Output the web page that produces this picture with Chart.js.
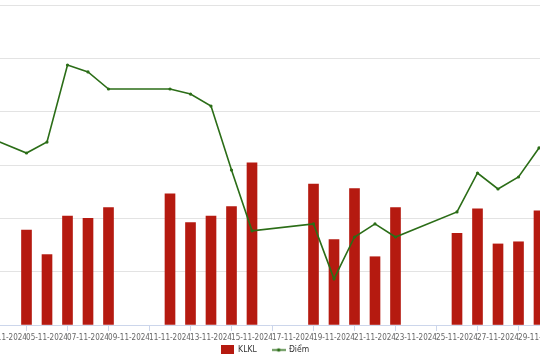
<!DOCTYPE html>
<html>
<head>
<meta charset="utf-8">
<script src="https://cdn.jsdelivr.net/npm/chart.js@4.4.1/dist/chart.umd.min.js"></script>
<style>
html,body{margin:0;padding:0;background:#fff;overflow:hidden;}
#wrap{position:relative;width:540px;height:360px;}
</style>
</head>
<body>
<div id="wrap"><canvas id="c"></canvas></div>
<script>
const dates = ["01-11-2024","04-11-2024","05-11-2024","06-11-2024","07-11-2024","08-11-2024",
  "11-11-2024","12-11-2024","13-11-2024","14-11-2024","15-11-2024",
  "18-11-2024","19-11-2024","20-11-2024","21-11-2024","22-11-2024",
  "25-11-2024","26-11-2024","27-11-2024","28-11-2024","29-11-2024"];
const klkl = [null, 89, 66, 102, 100, 110, 123, 96, 102, 111, 152, 132, 80, 128, 64, 110, 86, 109, 76, 78, 107];
const diem = [227.39, 226.45, 226.86, 229.75, 229.49, 228.85, 228.85, 228.66, 228.21, 225.81, 223.53,
  223.79, 221.73, 223.30, 223.79, 223.30, 224.24, 225.70, 225.10, 225.55, 226.64];
const tickLabels = ["03-11-2024","05-11-2024","07-11-2024","09-11-2024","11-11-2024","13-11-2024",
  "15-11-2024","17-11-2024","19-11-2024","21-11-2024","23-11-2024","25-11-2024","27-11-2024","29-11-2024"];
const seriesNames = ["KLKL", "Điểm"];

const dayOf = s => parseInt(s.slice(0, 2), 10);
const tickDays = tickLabels.map(dayOf);

const RED = '#b51a10';
const GREEN = '#2b6d17';
const FONT = '"Liberation Sans Narrow", "DejaVu Sans Condensed", "Roboto", sans-serif';

function mkBox() {
  const c = document.createElement('canvas'); c.width = 13; c.height = 9;
  const g = c.getContext('2d'); g.fillStyle = RED; g.fillRect(0, 0, 13, 9); return c;
}
function mkLine() {
  const c = document.createElement('canvas'); c.width = 14; c.height = 9;
  const g = c.getContext('2d'); g.strokeStyle = GREEN; g.lineWidth = 1.5;
  g.beginPath(); g.moveTo(0, 4.5); g.lineTo(14, 4.5); g.stroke();
  g.fillStyle = GREEN; g.beginPath(); g.arc(7, 4.5, 1.8, 0, Math.PI * 2); g.fill(); return c;
}
const legendIcons = [mkBox(), mkLine()];

const pxPerDay = 20.5;
const xMin = 3 - 6 / pxPerDay;
const xMax = xMin + 540 / pxPerDay;

const legendShift = {
  id: 'legendShift',
  afterLayout(chart) {
    const lg = chart.legend; const h = lg.bottom - lg.top;
    lg.top = 329.7; lg.bottom = lg.top + h;
    lg.left -= 4.5; lg.right -= 4.5;
  }
};

new Chart(document.getElementById('c'), {
  plugins: [legendShift],
  data: {
    datasets: [
      {
        type: 'line', label: seriesNames[1], yAxisID: 'y1', order: 0,
        data: dates.map((d, i) => ({x: dayOf(d), y: diem[i]})),
        borderColor: GREEN, backgroundColor: GREEN, borderWidth: 1.6,
        pointRadius: 1.6, pointBackgroundColor: GREEN, pointBorderWidth: 0, tension: 0
      },
      {
        type: 'bar', label: seriesNames[0], yAxisID: 'y', order: 1,
        data: dates.map((d, i) => ({x: dayOf(d), y: klkl[i]})),
        backgroundColor: RED, borderWidth: 0, barThickness: 10
      }
    ]
  },
  options: {
    responsive: true, maintainAspectRatio: false, animation: false,
    layout: {autoPadding: false, padding: {top: 5, bottom: -17.5, left: 0, right: 0}},
    plugins: {
      tooltip: {enabled: false},
      legend: {
        position: 'bottom',
        labels: {
          usePointStyle: true, pointStyleWidth: 12, padding: 16, color: '#333',
          font: {family: FONT, size: 8.5},
          generateLabels: chart => seriesNames.map((n, i) => ({
            text: n, pointStyle: legendIcons[i], fillStyle: 'transparent', strokeStyle: 'transparent',
            lineWidth: 0, hidden: false, datasetIndex: i === 0 ? 1 : 0, fontColor: '#333'
          }))
        }
      }
    },
    scales: {
      x: {
        type: 'linear', min: xMin, max: xMax, offset: false,
        afterBuildTicks: s => { s.ticks = tickDays.map(v => ({value: v})); },
        afterFit: s => { s.paddingLeft = 0; s.paddingRight = 0; s.height = 18; },
        grid: {drawOnChartArea: false, drawTicks: true, tickLength: 6, color: '#ccd6eb'},
        border: {display: true, color: '#ccd6eb', width: 1},
        ticks: {
          autoSkip: false, maxRotation: 0, minRotation: 0, padding: 2, color: '#666',
          font: {family: FONT, size: 8},
          callback: v => { const i = tickDays.indexOf(v); return i >= 0 ? tickLabels[i] : ''; }
        }
      },
      y: {
        position: 'left', min: 0, max: 300,
        ticks: {display: false, stepSize: 50},
        grid: {drawTicks: false, color: c => (c.tick && c.tick.value === 0) ? 'rgba(0,0,0,0)' : '#e3e3e3'},
        border: {display: false}
      },
      y1: {position: 'right', min: 220, max: 232, display: false}
    }
  }
});
</script>
</body>
</html>
